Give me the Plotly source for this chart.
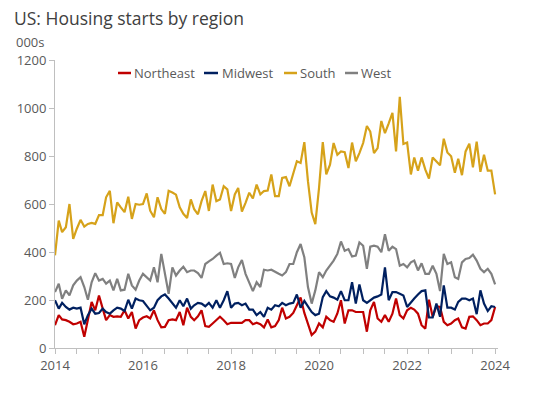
import plotly.graph_objects as go
import pandas as pd

series_names = ["Northeast", "Midwest", "South", "West"]

northeast = [95, 137, 119, 116, 109, 99, 102, 109, 47, 116,
             192, 157, 219, 164, 116, 137, 130, 132, 130, 157,
             123, 150, 81, 116, 127, 132, 123, 157, 116, 86,
             88, 116, 119, 116, 150, 95, 168,
             130, 116, 132, 157, 91, 88, 102, 116, 130, 116,
             99, 105, 105, 102, 105, 116, 116, 99, 105, 99,
             86, 119, 86, 91, 116, 168, 123, 130, 146, 178,
             210, 146, 102, 54, 68, 102, 86, 130, 116, 109, 144, 199, 102,
             157, 157, 150, 150, 150, 68, 157, 192, 123, 109,
             137, 109, 143, 206, 137, 123, 157, 168, 160, 143,
             95, 81, 201, 130, 174, 171, 109, 95, 102, 116,
             123, 86, 81, 130, 132, 116, 95, 102, 102, 116, 171]

midwest = [199, 164, 188, 171, 160, 168, 164, 168, 99, 137,
           164, 143, 146, 164, 150, 143, 157, 168, 164, 154,
           201, 164, 206, 199, 196, 174, 157, 168, 199, 215,
           223, 206, 185, 168, 199, 174, 206,
           164, 178, 188, 185, 174, 188, 168, 199, 168, 199,
           237, 168, 185, 188, 178, 185, 160, 160, 137, 150,
           130, 168, 160, 178, 174, 188, 178, 185, 188, 223,
           168, 196, 171, 150, 137, 143, 212, 237, 215, 210, 201, 237, 199,
           199, 274, 185, 265, 199, 188, 199, 210, 215, 223,
           336, 199, 233, 233, 226, 219, 171, 192, 206, 223,
           237, 240, 127, 127, 185, 130, 261, 168, 168, 160,
           192, 206, 206, 199, 206, 141, 240, 185, 154, 174, 171]

south = [386, 531, 483, 503, 600, 455, 497, 534, 506, 517,
         521, 517, 554, 554, 628, 655, 520, 607, 586, 566,
         630, 538, 600, 597, 600, 644, 572, 545, 628, 579,
         559, 655, 648, 639, 586, 559, 542,
         619, 578, 557, 612, 654, 571, 681, 612, 619, 674,
         661, 571, 640, 667, 568, 605, 647, 623, 681, 640,
         654, 656, 723, 633, 633, 709, 712, 674, 730, 778,
         771, 858, 695, 564, 516, 667, 858, 723, 764, 854, 805, 819, 816,
         750, 856, 778, 812, 854, 925, 902, 812, 833, 946,
         895, 936, 980, 819, 1047, 850, 856, 723, 794, 739,
         794, 743, 706, 794, 778, 761, 872, 815, 799, 730,
         789, 720, 819, 851, 753, 860, 734, 805, 739, 739, 640]

west = [233, 268, 205, 240, 219, 261, 281, 295, 254, 201,
        274, 312, 281, 288, 268, 281, 240, 288, 240, 243,
        309, 261, 243, 281, 309, 295, 281, 336, 274, 392,
        309, 226, 336, 302, 323, 339, 316,
        323, 323, 312, 292, 350, 361, 371, 385, 397, 350,
        353, 350, 292, 336, 367, 309, 274, 237, 274, 254,
        326, 323, 326, 316, 309, 302, 316, 350, 350, 399,
        433, 378, 254, 185, 240, 316, 295, 323, 343, 364, 392, 444, 405,
        412, 381, 385, 440, 426, 330, 422, 426, 422, 399,
        474, 405, 422, 412, 343, 350, 336, 357, 364, 323,
        353, 309, 309, 343, 309, 237, 392, 350, 357, 295,
        288, 357, 371, 375, 389, 364, 330, 316, 330, 309, 265]

colors = ["#C00000", "#002060", "#D6A21A", "#808080"]
all_values = [northeast, midwest, south, west]

fig = go.Figure()
for name, vals, col in zip(series_names, all_values, colors):
    dates = pd.date_range("2014-01-01", periods=len(vals), freq="MS")
    fig.add_trace(go.Scatter(x=dates, y=vals, mode="lines", name=name,
                             line=dict(color=col, width=2.2)))

# plot-area pixel geometry helpers
PL, PR, PT, PB = 55, 498, 60, 348
def px(x):
    return (x - PL) / (PR - PL)
def py(y):
    return (PB - y) / (PB - PT)

axis_col = "#BFBFBF"
text_col = "#595959"
FONT = "Open Sans"

fig.update_layout(
    width=543, height=396,
    margin=dict(l=PL, r=543 - PR, t=PT, b=396 - PB),
    plot_bgcolor="white", paper_bgcolor="white",
    showlegend=False,
    font=dict(family=FONT, size=13, color=text_col),
)
fig.update_xaxes(
    type="date", range=["2014-01-01", "2024-01-25"],
    tick0="2014-01-01", dtick="M24", tickformat="%Y",
    ticks="outside", ticklen=5, tickcolor=axis_col,
    showline=True, linecolor=axis_col, linewidth=1,
    showgrid=False, zeroline=False,
    tickfont=dict(family=FONT, size=13, color=text_col),
    minor=dict(dtick="M6", tick0="2014-01-01", ticks="outside", ticklen=5,
               tickcolor=axis_col, showgrid=False),
)
fig.update_yaxes(
    range=[0, 1200], dtick=200, tick0=0,
    ticks="outside", ticklen=5, tickcolor=axis_col,
    showline=True, linecolor=axis_col, linewidth=1,
    showgrid=False, zeroline=False,
    tickfont=dict(family=FONT, size=13, color=text_col),
)

annotations = [
    dict(text="US: Housing starts by region", x=px(12), y=py(18),
         xanchor="left", yanchor="middle",
         font=dict(family=FONT, size=17.5, color="#404040")),
    dict(text="000s", x=px(14), y=py(42), xanchor="left", yanchor="middle",
         font=dict(family=FONT, size=13, color=text_col)),
]
shapes = []
legend_pos = [(118, 131, 132), (204, 218, 220), (284, 297, 298), (345, 358, 359)]
for (x0, x1, xt), name, col in zip(legend_pos, series_names, colors):
    shapes.append(dict(type="line", xref="paper", yref="paper",
                       x0=px(x0), x1=px(x1), y0=py(73), y1=py(73),
                       line=dict(color=col, width=2.5)))
    annotations.append(dict(text=name, x=px(xt), y=py(73), xanchor="left",
                            yanchor="middle",
                            font=dict(family=FONT, size=13, color=text_col)))
for a in annotations:
    a.update(xref="paper", yref="paper", showarrow=False)
fig.update_layout(annotations=annotations, shapes=shapes)

fig.write_html("out.html",
               config={"displayModeBar": False},
               post_script="document.body.style.margin='0';document.body.style.padding='0';")
